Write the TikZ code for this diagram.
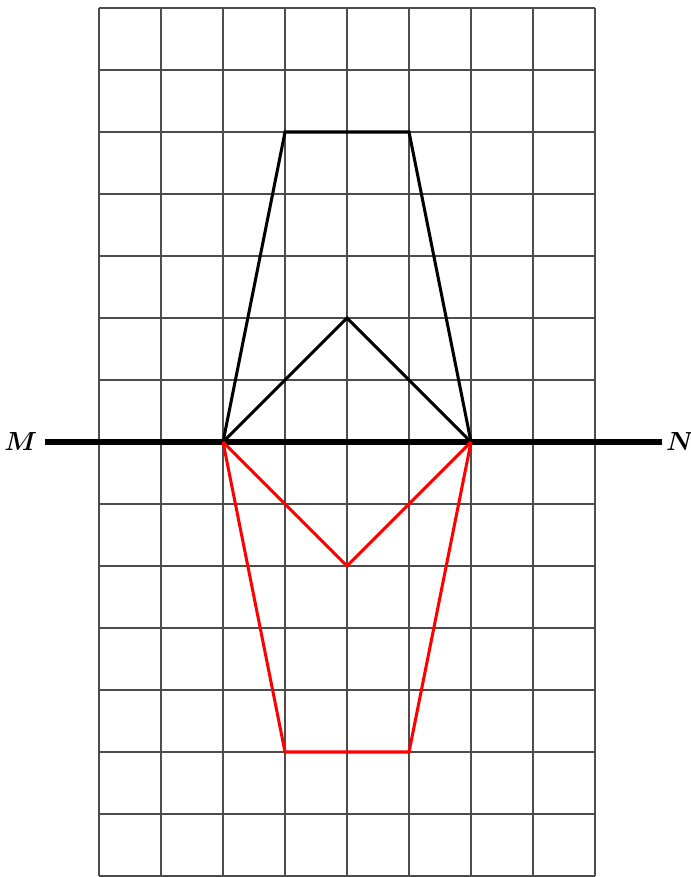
\documentclass[tikz,border=0pt]{standalone}
\usepackage{tikz}
\usetikzlibrary{positioning}
\tikzset{
    gridline/.style={draw=black!70, line width=0.9pt},
    axisline/.style={draw=black, line width=2.4pt},
    figline/.style={draw=black, line width=1.4pt, line join=miter},
    imgline/.style={draw=red, line width=1.4pt, line join=miter},
    lbl/.style={font=\fontsize{12}{14}\selectfont\boldmath, inner sep=0pt},
}

\begin{document}
\begin{tikzpicture}
    \useasboundingbox (-1.597,-0.016) rectangle (9.532,14.129);
    \fill[white] (-1.597,-0.016) rectangle (9.532,14.129);

    % squared paper
    \draw[gridline] (0,0) grid (8,14);

    % mirror line M N
    \coordinate (m) at (-0.87,7);
    \coordinate (n) at (9.08,7);
    \draw[axisline] (m) -- (n);
    \node[lbl, left=0.12cm of m] (lm) {$M$};
    \node[lbl, right=0.06cm of n] (ln) {$N$};

    % figure above the line
    \coordinate (a) at (2,7);
    \coordinate (b) at (3,12);
    \coordinate (c) at (5,12);
    \coordinate (d) at (6,7);
    \coordinate (e) at (4,9);
    \draw[figline] (a) -- (b) -- (c) -- (d);
    \draw[figline] (a) -- (e) -- (d);

    % its reflection in M N
    \coordinate (b1) at (3,2);
    \coordinate (c1) at (5,2);
    \coordinate (e1) at (4,5);
    \draw[imgline] (a) -- (b1) -- (c1) -- (d);
    \draw[imgline] (a) -- (e1) -- (d);
\end{tikzpicture}
\end{document}
